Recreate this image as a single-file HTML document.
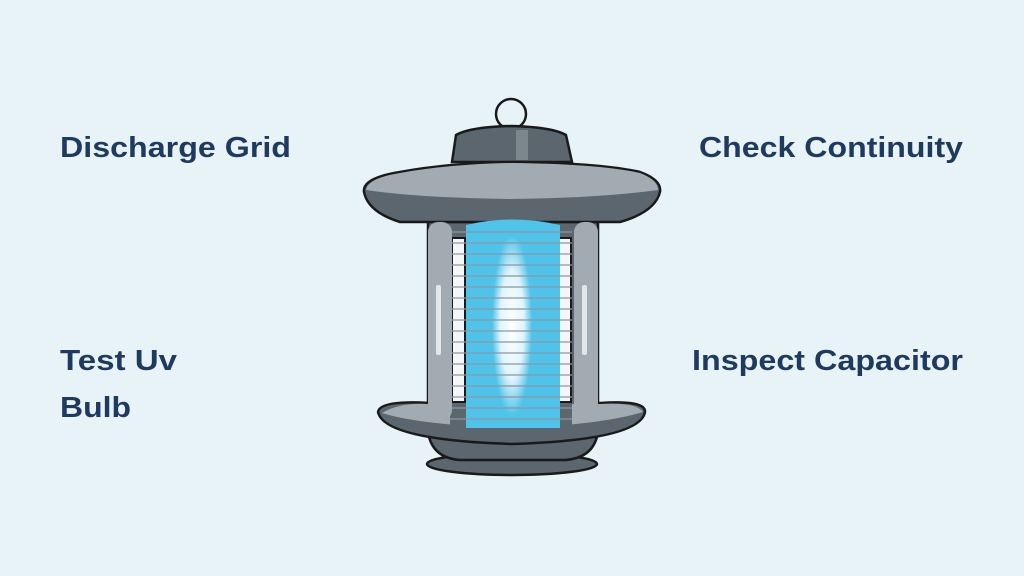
<!DOCTYPE html>
<html><head><meta charset="utf-8"><style>
html,body{margin:0;padding:0;background:#e8f3f8;}
svg{display:block}
text{font-family:"Liberation Sans",sans-serif;font-weight:bold;font-size:29px;fill:#1e3a5f;}
</style></head><body>
<svg width="1024" height="576" viewBox="0 0 1024 576">
<rect width="1024" height="576" fill="#e8f3f8"/>
<text x="60" y="157" textLength="231" lengthAdjust="spacingAndGlyphs">Discharge Grid</text>
<text x="699" y="157" textLength="264" lengthAdjust="spacingAndGlyphs">Check Continuity</text>
<text x="60" y="370" textLength="117" lengthAdjust="spacingAndGlyphs">Test Uv</text>
<text x="60" y="417" textLength="71" lengthAdjust="spacingAndGlyphs">Bulb</text>
<text x="692" y="370" textLength="271" lengthAdjust="spacingAndGlyphs">Inspect Capacitor</text>
<g stroke="#1a1a1a" stroke-width="2.5">
<!-- ring -->
<circle cx="511" cy="114" r="15" fill="none"/>
<!-- cap -->
<path d="M452 162 L456 135 Q470 127 511 126 Q552 127 566 135 L572 162 Z" fill="#5b666e"/>
<!-- foot -->
<ellipse cx="512" cy="464" rx="85" ry="11" fill="#5b666e"/>
<path d="M428 432 Q432 458 460 460 L565 460 Q594 458 598 432 Z" fill="#5b666e"/>
<!-- bottom tray -->
<path d="M378 412 Q380 400 430 403 L600 403 Q646 400 645 412 Q640 440 512 444 Q384 440 378 412 Z" fill="#5b666e"/>
<!-- body back -->
<rect x="428" y="222" width="170" height="190" fill="#5b666e"/>
<!-- roof -->
<path d="M364 192 Q362 178 400 172 Q450 163 512 162 Q600 163 640 172 Q662 180 660 192 Q655 212 620 222 L400 222 Q368 212 364 192 Z" fill="#5b666e"/>
</g>
<path d="M366 190 Q368 178 400 173 Q450 164 512 163 Q600 164 640 173 Q658 180 658 190 Q600 198 512 199 Q420 198 366 190 Z" fill="#a3abb2"/>
<path d="M382 413 Q400 402 430 404 L600 404 Q636 402 643 412 Q600 425 512 428 Q420 425 382 413 Z" fill="#a3abb2"/>
<rect x="516" y="130" width="12" height="30" fill="#7c868d"/>
<!-- grid back -->
<rect x="450" y="226" width="122" height="200" fill="#5b666e"/>
<rect x="452" y="238" width="13" height="164" fill="#f4f7f8" stroke="#1a1a1a" stroke-width="2"/>
<rect x="558" y="238" width="13" height="164" fill="#f4f7f8" stroke="#1a1a1a" stroke-width="2"/>
<!-- blue tube -->
<defs>
<radialGradient id="g" cx="0.5" cy="0.5" r="0.5"><stop offset="0" stop-color="#ffffff"/><stop offset="0.6" stop-color="#dff4fc"/><stop offset="1" stop-color="#4fc3ea"/></radialGradient>
</defs>
<path d="M466 428 L466 225 Q512 214 560 225 L560 428 Z" fill="#4fc3ea"/>
<ellipse cx="512" cy="325" rx="20" ry="90" fill="url(#g)"/>
<g stroke="#8d969d" stroke-width="1.3">
<line x1="450" y1="232" x2="572" y2="232"/><line x1="450" y1="243" x2="572" y2="243"/><line x1="450" y1="254" x2="572" y2="254"/><line x1="450" y1="265" x2="572" y2="265"/><line x1="450" y1="276" x2="572" y2="276"/><line x1="450" y1="287" x2="572" y2="287"/><line x1="450" y1="298" x2="572" y2="298"/><line x1="450" y1="309" x2="572" y2="309"/><line x1="450" y1="320" x2="572" y2="320"/><line x1="450" y1="331" x2="572" y2="331"/><line x1="450" y1="342" x2="572" y2="342"/><line x1="450" y1="353" x2="572" y2="353"/><line x1="450" y1="364" x2="572" y2="364"/><line x1="450" y1="375" x2="572" y2="375"/><line x1="450" y1="386" x2="572" y2="386"/><line x1="450" y1="397" x2="572" y2="397"/><line x1="450" y1="408" x2="572" y2="408"/><line x1="450" y1="419" x2="572" y2="419"/>
</g>
<!-- posts -->
<rect x="428" y="222" width="24" height="198" rx="10" fill="#a3abb2"/>
<rect x="574" y="222" width="24" height="198" rx="10" fill="#a3abb2"/>
<rect x="436" y="285" width="5" height="70" rx="2" fill="#e3e7ea"/>
<rect x="582" y="285" width="5" height="70" rx="2" fill="#e3e7ea"/>
</svg>
</body></html>
